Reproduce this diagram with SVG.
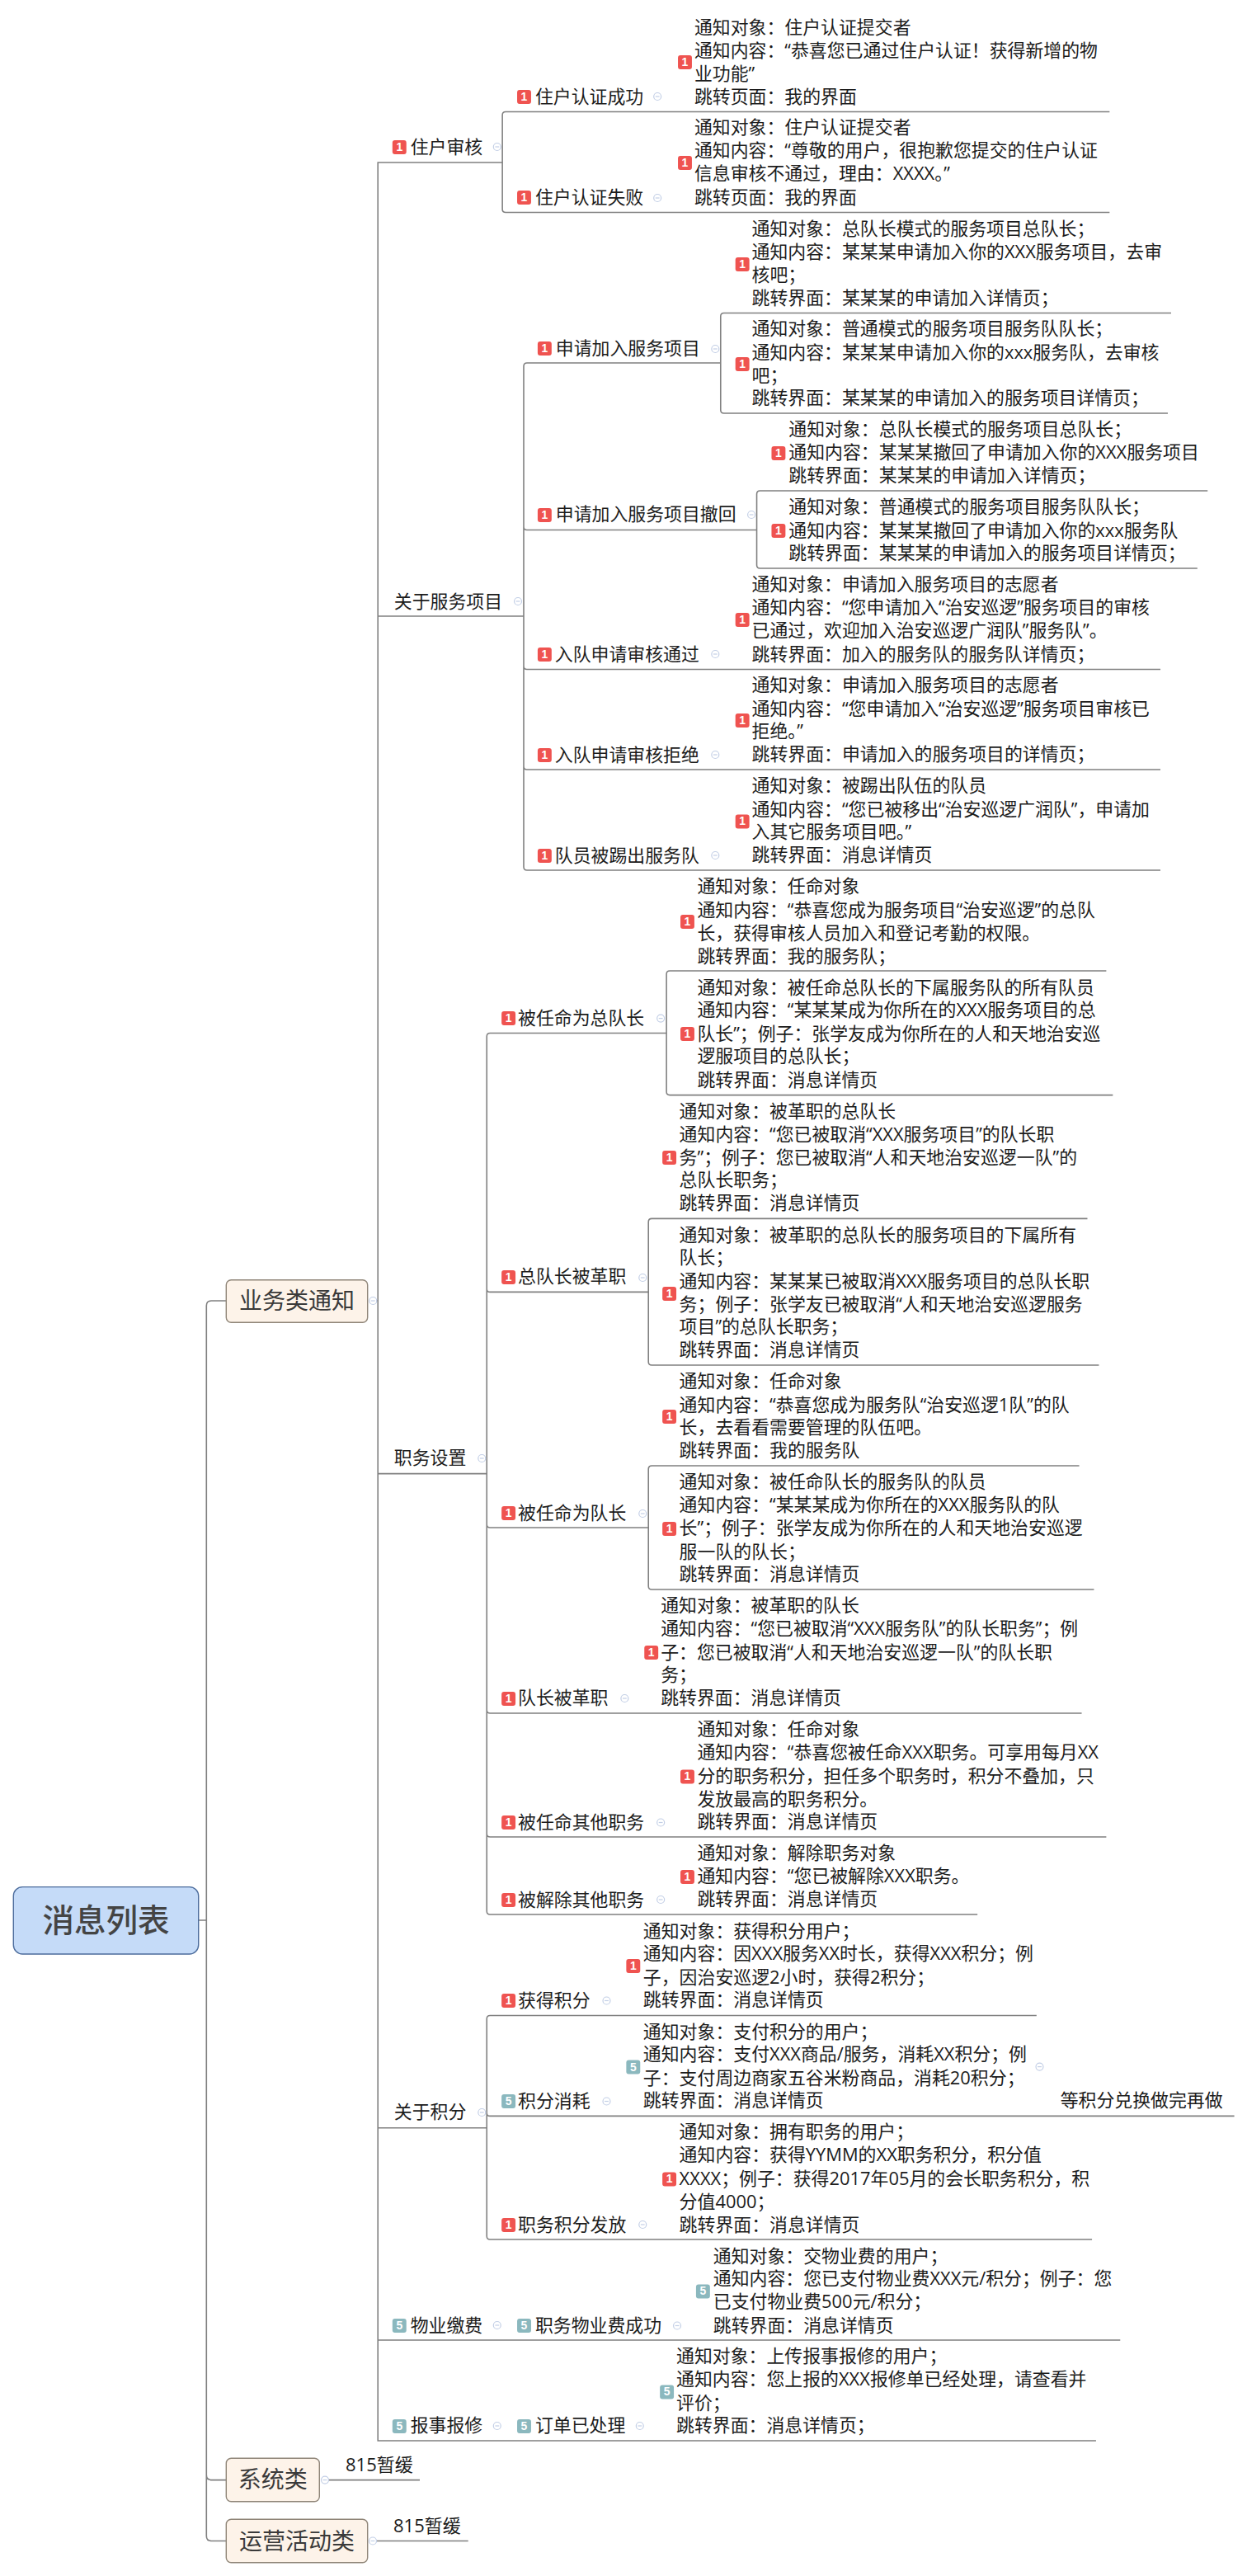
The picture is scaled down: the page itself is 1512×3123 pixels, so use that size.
<svg xmlns="http://www.w3.org/2000/svg" width="1512" height="3123" viewBox="0 0 1512 3123">
<style>
text{font-family:"Open Sans","Noto Sans CJK SC",sans-serif;font-size:22px;fill:#1c1c1c}
.lk{fill:none;stroke:#808080;stroke-width:1.6}
.r{fill:#ef5350}.t{fill:#8bb8be}
.bt{font-family:"Liberation Sans",sans-serif;font-size:14px;font-weight:bold;fill:#fff;text-anchor:middle}
.topic{fill:#fdf3e9;stroke:#8f8578;stroke-width:1.4}
.tt{font-size:28px;fill:#3a3a3a;text-anchor:middle}
.root{fill:#c5dbf8;stroke:#4c6c9c;stroke-width:1.4}
.rt{font-size:38.5px;fill:#444;text-anchor:middle;font-weight:500}
</style>
<defs>
<g id="col"><circle r="4.5" fill="#fff" stroke="#c3cfe6" stroke-width="1.2"/><path d="M-2.4 0H2.4" stroke="#c3cfe6" stroke-width="1.2"/></g>
</defs>
<g id="connectors">
<path class="lk" d="M240.7 2328H250.3M274.3 1577H256.3Q250.3 1577 250.3 1583V3074.5Q250.3 3080.5 256.3 3080.5H274.3M250.3 3000.6Q250.3 3006.6 256.3 3006.6H274.3"/>
<path class="lk" d="M398 3006.6H509M456 3080.5H567.7"/>
<g transform="translate(2.244 0) scale(.9949 1)">
<path class="lk" d="M456 1577H458.3M610 197H458.3V2959H1333.5M458.3 747H636M458.3 1786.6H591M458.3 2579.7H591M458.3 2837H1363"/>
<path class="lk" d="M1350 135.5H614Q610 135.5 610 139.5V253.5Q610 257.5 614 257.5H1350"/>
<path class="lk" d="M876 440H640Q636 440 636 444V1051Q636 1055 640 1055H1412M636 638.5Q636 642.5 640 642.5H920M636 807.5Q636 811.5 640 811.5H1412M636 929Q636 933 640 933H1412"/>
<path class="lk" d="M1425 379.5H880Q876 379.5 876 383.5V497Q876 501 880 501H1421"/>
<path class="lk" d="M1469.5 595H924Q920 595 920 599V685Q920 689 924 689H1457"/>
<path class="lk" d="M810 1252.5H595Q591 1252.5 591 1256.5V2317Q591 2321 595 2321H1189M591 1562.4Q591 1566.4 595 1566.4H788M591 1848Q591 1852 595 1852H788M591 2073Q591 2077 595 2077H1316M591 2223Q591 2227 595 2227H1346"/>
<path class="lk" d="M1346 1177H814Q810 1177 810 1181V1323.6Q810 1327.6 814 1327.6H1354"/>
<path class="lk" d="M1323 1477.4H792Q788 1477.4 788 1481.4V1651Q788 1655 792 1655H1337"/>
<path class="lk" d="M1313 1777H792Q788 1777 788 1781V1923Q788 1927 792 1927H1331"/>
<path class="lk" d="M1261 2443.5H595Q591 2443.5 591 2447.5V2711Q591 2715 595 2715H1328.6M591 2561.4Q591 2565.4 595 2565.4H1502"/>
</g>
</g>
<g id="root"><rect class="root" x="16.3" y="2287.6" width="224.4" height="81.4" rx="11"/><text class="rt" x="128.5" y="2341.5">消息列表</text></g>
<g id="topic-yewu"><rect class="topic" x="274.3" y="1551.7" width="171.4" height="51.5" rx="6"/><text class="tt" x="360" y="1587">业务类通知</text><use href="#col" x="452.3" y="1577"/></g>
<g id="topic-xitong"><rect class="topic" x="274.3" y="2980.3" width="113" height="52.4" rx="6"/><text class="tt" x="330.8" y="3016">系统类</text><use href="#col" x="394" y="3006.6"/></g>
<g id="topic-yunying"><rect class="topic" x="274.3" y="3054.3" width="171.4" height="52.4" rx="6"/><text class="tt" x="360" y="3090.5">运营活动类</text><use href="#col" x="452" y="3080.5"/></g>
<g id="leaf-815-a"><text x="419" y="2995.6">815暂缓</text></g>
<g id="leaf-815-b"><text x="477" y="3070.3">815暂缓</text></g>

<g id="details" transform="translate(2.244 0) scale(.9949 1)">
<g id="b-zhuhu"><rect class="r" x="476" y="170" width="17" height="17" rx="3"/><text class="bt" x="484.5" y="183">1</text><text x="498" y="186">住户审核</text><use href="#col" x="603.6" y="178"/></g>
<g id="b-fuwu"><text x="478" y="737">关于服务项目</text><use href="#col" x="629" y="729"/></g>
<g id="b-zhiwu"><text x="478" y="1775">职务设置</text><use href="#col" x="585" y="1768"/></g>
<g id="b-jifen"><text x="478" y="2568">关于积分</text><use href="#col" x="585" y="2561"/></g>
<g id="b-wuye"><rect class="t" x="476" y="2811" width="17" height="17" rx="3"/><text class="bt" x="484.5" y="2824">5</text><text x="498" y="2827">物业缴费</text><use href="#col" x="603.6" y="2819"/></g>
<g id="b-baoxiu"><rect class="t" x="476" y="2933" width="17" height="17" rx="3"/><text class="bt" x="484.5" y="2946">5</text><text x="498" y="2948">报事报修</text><use href="#col" x="603.6" y="2941"/></g>

<g id="n1"><rect class="r" x="628" y="109" width="17" height="17" rx="3"/><text class="bt" x="636.5" y="122">1</text><text x="650" y="125">住户认证成功</text><use href="#col" x="799" y="117"/></g>
<g id="c1"><rect class="r" x="824" y="67" width="17" height="17" rx="3"/><text class="bt" x="832.5" y="80">1</text><text x="844" y="41">通知对象：住户认证提交者</text><text x="844" y="69">通知内容：“恭喜您已通过住户认证！获得新增的物</text><text x="844" y="97">业功能”</text><text x="844" y="125">跳转页面：我的界面</text></g>
<g id="n2"><rect class="r" x="628" y="231" width="17" height="17" rx="3"/><text class="bt" x="636.5" y="244">1</text><text x="650" y="247">住户认证失败</text><use href="#col" x="799" y="240"/></g>
<g id="c2"><rect class="r" x="824" y="189" width="17" height="17" rx="3"/><text class="bt" x="832.5" y="202">1</text><text x="844" y="162">通知对象：住户认证提交者</text><text x="844" y="190">通知内容：“尊敬的用户，很抱歉您提交的住户认证</text><text x="844" y="218">信息审核不通过，理由：XXXX。”</text><text x="844" y="247">跳转页面：我的界面</text></g>

<g id="n3"><rect class="r" x="653" y="414" width="17" height="17" rx="3"/><text class="bt" x="661.5" y="427">1</text><text x="675" y="430">申请加入服务项目</text><use href="#col" x="869.5" y="423"/></g>
<g id="c3"><rect class="r" x="894" y="312" width="17" height="17" rx="3"/><text class="bt" x="902.5" y="325">1</text><text x="914" y="285">通知对象：总队长模式的服务项目总队长；</text><text x="914" y="313">通知内容：某某某申请加入你的XXX服务项目，去审</text><text x="914" y="341">核吧；</text><text x="914" y="369">跳转界面：某某某的申请加入详情页；</text></g>
<g id="c4"><rect class="r" x="894" y="433" width="17" height="17" rx="3"/><text class="bt" x="902.5" y="446">1</text><text x="914" y="406">通知对象：普通模式的服务项目服务队队长；</text><text x="914" y="435">通知内容：某某某申请加入你的xxx服务队，去审核</text><text x="914" y="463">吧；</text><text x="914" y="490">跳转界面：某某某的申请加入的服务项目详情页；</text></g>
<g id="n4"><rect class="r" x="653" y="616" width="17" height="17" rx="3"/><text class="bt" x="661.5" y="629">1</text><text x="675" y="631">申请加入服务项目撤回</text><use href="#col" x="913.5" y="624"/></g>
<g id="c5"><rect class="r" x="938" y="541" width="17" height="17" rx="3"/><text class="bt" x="946.5" y="554">1</text><text x="959" y="528">通知对象：总队长模式的服务项目总队长；</text><text x="959" y="556">通知内容：某某某撤回了申请加入你的XXX服务项目</text><text x="959" y="584">跳转界面：某某某的申请加入详情页；</text></g>
<g id="c6"><rect class="r" x="938" y="635" width="17" height="17" rx="3"/><text class="bt" x="946.5" y="648">1</text><text x="959" y="622">通知对象：普通模式的服务项目服务队队长；</text><text x="959" y="651">通知内容：某某某撤回了申请加入你的xxx服务队</text><text x="959" y="678">跳转界面：某某某的申请加入的服务项目详情页；</text></g>
<g id="n5"><rect class="r" x="653" y="785" width="17" height="17" rx="3"/><text class="bt" x="661.5" y="798">1</text><text x="674" y="801">入队申请审核通过</text><use href="#col" x="869.5" y="793"/></g>
<g id="c7"><rect class="r" x="894" y="743" width="17" height="17" rx="3"/><text class="bt" x="902.5" y="756">1</text><text x="914" y="716">通知对象：申请加入服务项目的志愿者</text><text x="914" y="744">通知内容：“您申请加入“治安巡逻”服务项目的审核</text><text x="914" y="772">已通过，欢迎加入治安巡逻广润队”服务队”。</text><text x="914" y="801">跳转界面：加入的服务队的服务队详情页；</text></g>
<g id="n6"><rect class="r" x="653" y="907" width="17" height="17" rx="3"/><text class="bt" x="661.5" y="920">1</text><text x="674" y="923">入队申请审核拒绝</text><use href="#col" x="869.5" y="915"/></g>
<g id="c8"><rect class="r" x="894" y="865" width="17" height="17" rx="3"/><text class="bt" x="902.5" y="878">1</text><text x="914" y="838">通知对象：申请加入服务项目的志愿者</text><text x="914" y="867">通知内容：“您申请加入“治安巡逻”服务项目审核已</text><text x="914" y="894">拒绝。”</text><text x="914" y="922">跳转界面：申请加入的服务项目的详情页；</text></g>
<g id="n7"><rect class="r" x="653" y="1029" width="17" height="17" rx="3"/><text class="bt" x="661.5" y="1042">1</text><text x="674" y="1045">队员被踢出服务队</text><use href="#col" x="869.5" y="1037"/></g>
<g id="c9"><rect class="r" x="894" y="987.5" width="17" height="17" rx="3"/><text class="bt" x="902.5" y="1000.5">1</text><text x="914" y="960.5">通知对象：被踢出队伍的队员</text><text x="914" y="989">通知内容：“您已被移出“治安巡逻广润队”，申请加</text><text x="914" y="1016">入其它服务项目吧。”</text><text x="914" y="1044">跳转界面：消息详情页</text></g>

<g id="n8"><rect class="r" x="609" y="1226" width="17" height="17" rx="3"/><text class="bt" x="617.5" y="1239">1</text><text x="629" y="1242">被任命为总队长</text><use href="#col" x="803" y="1234.6"/></g>
<g id="c10"><rect class="r" x="827" y="1109" width="17" height="17" rx="3"/><text class="bt" x="835.5" y="1122">1</text><text x="847.5" y="1082.5">通知对象：任命对象</text><text x="847.5" y="1110.6">通知内容：“恭喜您成为服务项目“治安巡逻”的总队</text><text x="847.5" y="1139">长，获得审核人员加入和登记考勤的权限。</text><text x="847.5" y="1167">跳转界面：我的服务队；</text></g>
<g id="c11"><rect class="r" x="827" y="1245" width="17" height="17" rx="3"/><text class="bt" x="835.5" y="1258">1</text><text x="847.5" y="1204.7">通知对象：被任命总队长的下属服务队的所有队员</text><text x="847.5" y="1232">通知内容：“某某某成为你所在的XXX服务项目的总</text><text x="847.5" y="1261">队长”；例子：张学友成为你所在的人和天地治安巡</text><text x="847.5" y="1288.5">逻服项目的总队长；</text><text x="847.5" y="1317">跳转界面：消息详情页</text></g>
<g id="n9"><rect class="r" x="609" y="1540" width="17" height="17" rx="3"/><text class="bt" x="617.5" y="1553">1</text><text x="629" y="1555">总队长被革职</text><use href="#col" x="781" y="1549"/></g>
<g id="c12"><rect class="r" x="805" y="1395" width="17" height="17" rx="3"/><text class="bt" x="813.5" y="1408">1</text><text x="825.6" y="1354.6">通知对象：被革职的总队长</text><text x="825.6" y="1382.6">通知内容：“您已被取消“XXX服务项目”的队长职</text><text x="825.6" y="1410.7">务”；例子：您已被取消“人和天地治安巡逻一队”的</text><text x="825.6" y="1438">总队长职务；</text><text x="825.6" y="1466.5">跳转界面：消息详情页</text></g>
<g id="c13"><rect class="r" x="805" y="1560" width="17" height="17" rx="3"/><text class="bt" x="813.5" y="1573">1</text><text x="825.6" y="1505">通知对象：被革职的总队长的服务项目的下属所有</text><text x="825.6" y="1532.5">队长；</text><text x="825.6" y="1560.6">通知内容：某某某已被取消XXX服务项目的总队长职</text><text x="825.6" y="1588.6">务；例子：张学友已被取消“人和天地治安巡逻服务</text><text x="825.6" y="1616">项目”的总队长职务；</text><text x="825.6" y="1644.4">跳转界面：消息详情页</text></g>
<g id="n10"><rect class="r" x="609" y="1826" width="17" height="17" rx="3"/><text class="bt" x="617.5" y="1839">1</text><text x="629" y="1842">被任命为队长</text><use href="#col" x="781" y="1835"/></g>
<g id="c14"><rect class="r" x="805" y="1709" width="17" height="17" rx="3"/><text class="bt" x="813.5" y="1722">1</text><text x="825.6" y="1682.5">通知对象：任命对象</text><text x="825.6" y="1710.7">通知内容：“恭喜您成为服务队“治安巡逻1队”的队</text><text x="825.6" y="1738">长，去看看需要管理的队伍吧。</text><text x="825.6" y="1766.5">跳转界面：我的服务队</text></g>
<g id="c15"><rect class="r" x="805" y="1845" width="17" height="17" rx="3"/><text class="bt" x="813.5" y="1858">1</text><text x="825.6" y="1804">通知对象：被任命队长的服务队的队员</text><text x="825.6" y="1832">通知内容：“某某某成为你所在的XXX服务队的队</text><text x="825.6" y="1860">长”；例子：张学友成为你所在的人和天地治安巡逻</text><text x="825.6" y="1889">服一队的队长；</text><text x="825.6" y="1916">跳转界面：消息详情页</text></g>
<g id="n11"><rect class="r" x="609" y="2051" width="17" height="17" rx="3"/><text class="bt" x="617.5" y="2064">1</text><text x="629" y="2066.5">队长被革职</text><use href="#col" x="759" y="2059"/></g>
<g id="c16"><rect class="r" x="783" y="1995" width="17" height="17" rx="3"/><text class="bt" x="791.5" y="2008">1</text><text x="803" y="1954">通知对象：被革职的队长</text><text x="803" y="1982.5">通知内容：“您已被取消“XXX服务队”的队长职务”；例</text><text x="803" y="2010.6">子：您已被取消“人和天地治安巡逻一队”的队长职</text><text x="803" y="2038">务；</text><text x="803" y="2066.5">跳转界面：消息详情页</text></g>
<g id="n12"><rect class="r" x="609" y="2201" width="17" height="17" rx="3"/><text class="bt" x="617.5" y="2214">1</text><text x="629" y="2217">被任命其他职务</text><use href="#col" x="803" y="2209.5"/></g>
<g id="c17"><rect class="r" x="827" y="2145.5" width="17" height="17" rx="3"/><text class="bt" x="835.5" y="2158.5">1</text><text x="847.5" y="2104">通知对象：任命对象</text><text x="847.5" y="2132.5">通知内容：“恭喜您被任命XXX职务。可享用每月XX</text><text x="847.5" y="2160.7">分的职务积分，担任多个职务时，积分不叠加，只</text><text x="847.5" y="2189">发放最高的职务积分。</text><text x="847.5" y="2216">跳转界面：消息详情页</text></g>
<g id="n13"><rect class="r" x="609" y="2295" width="17" height="17" rx="3"/><text class="bt" x="617.5" y="2308">1</text><text x="629" y="2310.7">被解除其他职务</text><use href="#col" x="803" y="2303"/></g>
<g id="c18"><rect class="r" x="827" y="2267" width="17" height="17" rx="3"/><text class="bt" x="835.5" y="2280">1</text><text x="847.5" y="2254.4">通知对象：解除职务对象</text><text x="847.5" y="2282.5">通知内容：“您已被解除XXX职务。</text><text x="847.5" y="2310">跳转界面：消息详情页</text></g>

<g id="n14"><rect class="r" x="609" y="2417" width="17" height="17" rx="3"/><text class="bt" x="617.5" y="2430">1</text><text x="629" y="2433">获得积分</text><use href="#col" x="737" y="2425.5"/></g>
<g id="c19"><rect class="r" x="761" y="2375" width="17" height="17" rx="3"/><text class="bt" x="769.5" y="2388">1</text><text x="781.6" y="2349">通知对象：获得积分用户；</text><text x="781.6" y="2376.4">通知内容：因XXX服务XX时长，获得XXX积分；例</text><text x="781.6" y="2405">子，因治安巡逻2小时，获得2积分；</text><text x="781.6" y="2432.4">跳转界面：消息详情页</text></g>
<g id="n15"><rect class="t" x="609" y="2539" width="17" height="17" rx="3"/><text class="bt" x="617.5" y="2552">5</text><text x="629" y="2555">积分消耗</text><use href="#col" x="737" y="2547.5"/></g>
<g id="c20"><rect class="t" x="761" y="2497.6" width="17" height="17" rx="3"/><text class="bt" x="769.5" y="2510.6">5</text><text x="781.6" y="2470.7">通知对象：支付积分的用户；</text><text x="781.6" y="2498.5">通知内容：支付XXX商品/服务，消耗XX积分；例</text><text x="781.6" y="2526.7">子：支付周边商家五谷米粉商品，消耗20积分；</text><text x="781.6" y="2554.4">跳转界面：消息详情页</text><use href="#col" x="1264.7" y="2505.6"/></g>
<g id="leaf-wait"><text x="1290" y="2554.4">等积分兑换做完再做</text></g>
<g id="n16"><rect class="r" x="609" y="2689" width="17" height="17" rx="3"/><text class="bt" x="617.5" y="2702">1</text><text x="629" y="2704.7">职务积分发放</text><use href="#col" x="781" y="2697"/></g>
<g id="c21"><rect class="r" x="805" y="2633.5" width="17" height="17" rx="3"/><text class="bt" x="813.5" y="2646.5">1</text><text x="825.6" y="2592">通知对象：拥有职务的用户；</text><text x="825.6" y="2620.5">通知内容：获得YYMM的XX职务积分，积分值</text><text x="825.6" y="2648.7">XXXX；例子：获得2017年05月的会长职务积分，积</text><text x="825.6" y="2677">分值4000；</text><text x="825.6" y="2704.7">跳转界面：消息详情页</text></g>
<g id="n17"><rect class="t" x="628" y="2811" width="17" height="17" rx="3"/><text class="bt" x="636.5" y="2824">5</text><text x="650" y="2827">职务物业费成功</text><use href="#col" x="823" y="2819.5"/></g>
<g id="c22"><rect class="t" x="846" y="2769.5" width="17" height="17" rx="3"/><text class="bt" x="854.5" y="2782.5">5</text><text x="867" y="2742.6">通知对象：交物业费的用户；</text><text x="867" y="2770">通知内容：您已支付物业费XXX元/积分；例子：您</text><text x="867" y="2798.5">已支付物业费500元/积分；</text><text x="867" y="2827">跳转界面：消息详情页</text></g>
<g id="n18"><rect class="t" x="628" y="2933" width="17" height="17" rx="3"/><text class="bt" x="636.5" y="2946">5</text><text x="650" y="2948">订单已处理</text><use href="#col" x="777.5" y="2941"/></g>
<g id="c23"><rect class="t" x="802" y="2891.5" width="17" height="17" rx="3"/><text class="bt" x="810.5" y="2904.5">5</text><text x="822" y="2864">通知对象：上传报事报修的用户；</text><text x="822" y="2892">通知内容：您上报的XXX报修单已经处理，请查看并</text><text x="822" y="2920.6">评价；</text><text x="822" y="2948">跳转界面：消息详情页；</text></g>
</g>
</svg>
